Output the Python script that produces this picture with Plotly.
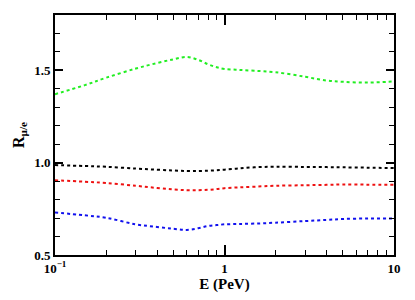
import plotly.graph_objects as go

energy = [0.1, 0.15, 0.2, 0.3, 0.4, 0.5, 0.6, 0.7, 0.8, 0.9, 1.0, 1.2, 1.5, 2.0, 3.0, 4.0, 5.0, 7.0, 10.0]
green = [1.371, 1.42, 1.46, 1.51, 1.54, 1.56, 1.573, 1.557, 1.533, 1.517, 1.508, 1.503, 1.498, 1.49, 1.465, 1.445, 1.438, 1.434, 1.44]
black = [0.987, 0.982, 0.978, 0.968, 0.962, 0.958, 0.955, 0.955, 0.957, 0.959, 0.962, 0.968, 0.975, 0.978, 0.977, 0.976, 0.975, 0.973, 0.971]
red = [0.905, 0.897, 0.89, 0.875, 0.863, 0.855, 0.851, 0.851, 0.853, 0.857, 0.862, 0.866, 0.87, 0.875, 0.878, 0.88, 0.882, 0.881, 0.88]
blue = [0.73, 0.715, 0.702, 0.666, 0.652, 0.642, 0.636, 0.645, 0.657, 0.662, 0.666, 0.668, 0.67, 0.675, 0.684, 0.69, 0.695, 0.698, 0.698]

series = [("green", green, "#22ee22"), ("black", black, "#000000"),
          ("red", red, "#ee1111"), ("blue", blue, "#1111ee")]

x_label_alias = {"0.1": "10<sup>\u22121</sup>"}

FAM = "Liberation Serif"

fig = go.Figure()
for name, ys, col in series:
    fig.add_trace(go.Scatter(x=energy, y=ys, mode="lines", name=name,
                             line=dict(color=col, width=2, dash="dot", shape="spline")))

fig.update_layout(
    template="simple_white",
    width=415, height=300,
    margin=dict(l=55, r=21, t=15, b=40),
    showlegend=False,
    font=dict(family=FAM, size=13, color="black"),
)
fig.update_xaxes(
    type="log", range=[-1, 1],
    tickmode="linear", tick0=0, dtick=1, labelalias=x_label_alias,
    ticks="inside", ticklen=10, tickwidth=1.5, tickcolor="black",
    minor=dict(ticks="inside", ticklen=5, tickwidth=1.2, tickcolor="black", dtick="D1"),
    showline=True, linewidth=2, linecolor="black", mirror="allticks",
    tickfont=dict(family=FAM, size=13, color="black", weight="bold"),
    title=dict(text="<b>E (PeV)</b>", font=dict(family=FAM, size=15, color="black"), standoff=2),
)
fig.update_yaxes(
    range=[0.5, 1.8],
    tickmode="linear", tick0=0.5, dtick=0.5, tickformat=".1f",
    ticks="inside", ticklen=8, tickwidth=1.5, tickcolor="black",
    minor=dict(ticks="inside", ticklen=5, tickwidth=1.2, tickcolor="black", dtick=0.1),
    showline=True, linewidth=2, linecolor="black", mirror="allticks",
    tickfont=dict(family=FAM, size=13, color="black", weight="bold"),
    title=dict(text="<b>R<sub>\u03bc/e</sub></b>", font=dict(family=FAM, size=16, color="black"), standoff=6),
)
fig.write_html("out.html", post_script="document.body.style.margin='0';",
               config={"displayModeBar": False})
